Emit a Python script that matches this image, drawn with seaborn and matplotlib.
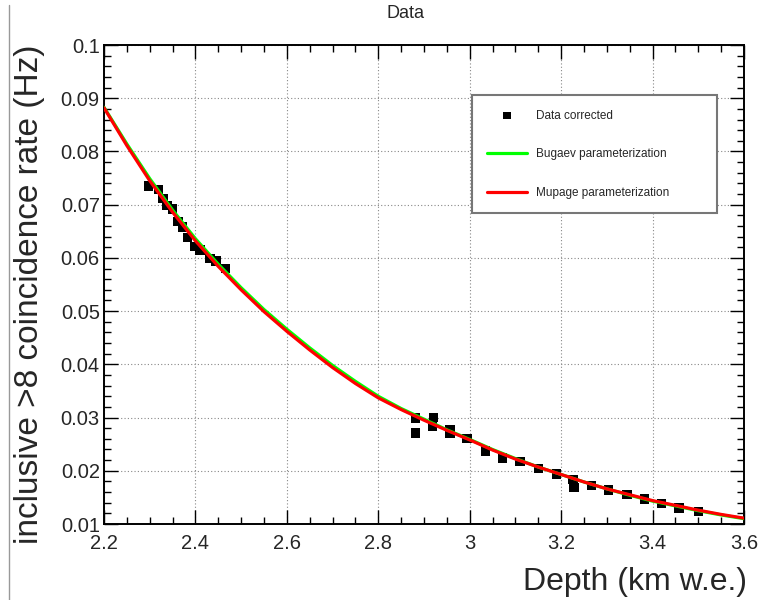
import matplotlib
matplotlib.use("Agg")
import matplotlib.pyplot as plt
from matplotlib.ticker import MultipleLocator, FuncFormatter
from matplotlib.lines import Line2D
import seaborn as sns
import pandas as pd

# ---- data ----
depth_data = [2.298, 2.320, 2.329, 2.338, 2.349, 2.362, 2.371, 2.382, 2.399, 2.410,
              2.432, 2.445, 2.465, 2.881, 2.881, 2.920, 2.918, 2.957, 2.957, 2.994,
              3.034, 3.071, 3.110, 3.150, 3.189, 3.226, 3.228, 3.266, 3.303, 3.344,
              3.382, 3.419, 3.458, 3.500]
rate_data = [0.0735, 0.0729, 0.0712, 0.0699, 0.0692, 0.0668, 0.0658, 0.0638, 0.0621, 0.0615,
             0.0599, 0.0594, 0.0580, 0.0299, 0.0271, 0.0300, 0.0283, 0.0278, 0.0271, 0.0260,
             0.0237, 0.0224, 0.0218, 0.0205, 0.0194, 0.0184, 0.0168, 0.0173, 0.0164, 0.0156,
             0.0147, 0.0139, 0.0130, 0.0124]

depth_curve = [2.20, 2.25, 2.30, 2.35, 2.40, 2.45, 2.50, 2.55, 2.60, 2.65, 2.70, 2.75,
               2.80, 2.85, 2.90, 2.95, 3.00, 3.05, 3.10, 3.15, 3.20, 3.25, 3.30, 3.35,
               3.40, 3.45, 3.50, 3.55, 3.60]
bugaev_rate = [0.0883, 0.0814, 0.0749, 0.0690, 0.0636, 0.0588, 0.0544, 0.0503, 0.0466,
               0.0431, 0.0398, 0.0368, 0.0340, 0.0317, 0.0297, 0.0277, 0.0259, 0.0240,
               0.0223, 0.0207, 0.0193, 0.0179, 0.0166, 0.0154, 0.0143, 0.0134, 0.0125,
               0.0117, 0.0110]
mupage_rate = [0.0882, 0.0811, 0.0745, 0.0686, 0.0632, 0.0584, 0.0540, 0.0499, 0.0462,
               0.0427, 0.0394, 0.0364, 0.0337, 0.0315, 0.0295, 0.0276, 0.0258, 0.0239,
               0.0222, 0.0207, 0.0193, 0.0179, 0.0166, 0.0155, 0.0144, 0.0135, 0.0126,
               0.0118, 0.0111]

labels = ["Data corrected", "Bugaev parameterization", "Mupage parameterization"]

sns.set_style("ticks")
plt.rcParams['font.family'] = ['Liberation Sans', 'DejaVu Sans']

fig = plt.figure(figsize=(7.65, 6.0), dpi=100)
ax = fig.add_axes([104 / 765, 1 - 524 / 600, 640 / 765, 479 / 600])

df_data = pd.DataFrame({"depth": depth_data, "rate": rate_data})
df_b = pd.DataFrame({"depth": depth_curve, "rate": bugaev_rate})
df_m = pd.DataFrame({"depth": depth_curve, "rate": mupage_rate})

sns.lineplot(data=df_b, x="depth", y="rate", ax=ax, color="#00ff00", linewidth=2.3,
             sort=False, label=labels[1], zorder=3)
sns.lineplot(data=df_m, x="depth", y="rate", ax=ax, color="#ff0000", linewidth=2.3,
             sort=False, label=labels[2], zorder=4)
sns.scatterplot(data=df_data, x="depth", y="rate", ax=ax, marker="s", s=44,
                color="black", edgecolor="none", linewidth=0, label=labels[0], zorder=2)

ax.set_xlim(2.2, 3.6)
ax.set_ylim(0.01, 0.1)
ax.xaxis.set_major_locator(MultipleLocator(0.2))
ax.xaxis.set_minor_locator(MultipleLocator(0.05))
ax.yaxis.set_major_locator(MultipleLocator(0.01))
ax.yaxis.set_minor_locator(MultipleLocator(0.002))
ax.xaxis.set_major_formatter(FuncFormatter(lambda v, p: f"{v:g}"))
ax.yaxis.set_major_formatter(FuncFormatter(lambda v, p: f"{v:g}"))
ax.tick_params(which="both", direction="in", top=True, right=True, labelsize=14.5,
               color="black", width=1)
ax.tick_params(which="major", length=10)
ax.tick_params(which="minor", length=5)
ax.tick_params(axis="x", which="major", pad=7)
ax.tick_params(axis="y", which="major", pad=3)
for s in ax.spines.values():
    s.set_linewidth(1.4)
    s.set_color("black")
ax.grid(True, which="major", linestyle=(0, (1, 2)), color="#888888", linewidth=0.8)

ax.set_xlabel("")
ax.set_ylabel("")
fig.text(747 / 765, 1 - 582 / 600, "Depth (km w.e.)", ha="right", va="center", fontsize=23)
fig.text(30 / 765, 1 - 44 / 600, "inclusive >8 coincidence rate (Hz)", ha="center", va="top",
         rotation=90, fontsize=24)
fig.text(406 / 765, 1 - 14 / 600, "Data", ha="center", va="center", fontsize=13)

# canvas edge line
fig.add_artist(Line2D([9 / 765, 9 / 765], [0, 1 - 5 / 600], transform=fig.transFigure,
                      color="#999999", linewidth=1))

handles, labs = ax.get_legend_handles_labels()
order = [labs.index(l) for l in labels]
leg = ax.legend([handles[i] for i in order], [labs[i] for i in order],
                loc="upper left", bbox_to_anchor=(0.575, 0.896, 0.383, 0.0), mode="expand",
                fontsize=8.5, labelspacing=2.25, handlelength=3.4, handletextpad=0.8,
                borderpad=1.25, borderaxespad=0, frameon=True, fancybox=False,
                edgecolor="#777777", framealpha=1, markerscale=0.8)
leg.get_frame().set_linewidth(1.5)

fig.savefig("out.png", dpi=100)
